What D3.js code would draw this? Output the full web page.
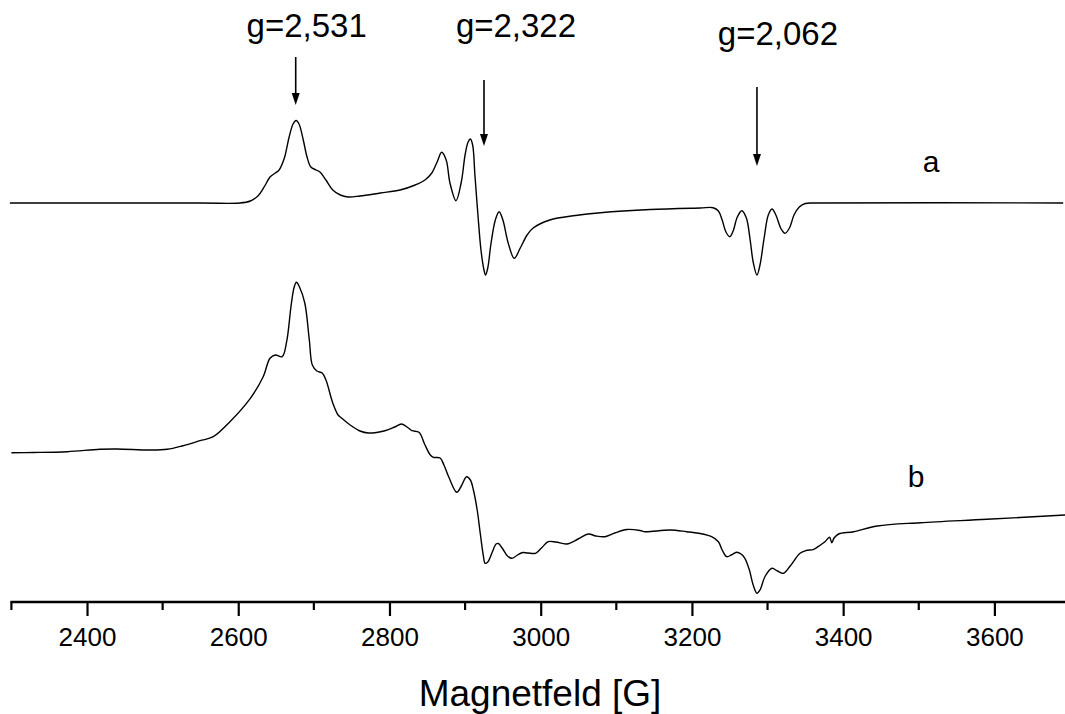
<!DOCTYPE html>
<html>
<head>
<meta charset="utf-8">
<script src="https://cdn.jsdelivr.net/npm/d3@7"></script>
<style>
  html, body { margin: 0; padding: 0; background: #fff; }
  svg { display: block; font-family: Arial, "Liberation Sans", sans-serif; }
</style>
</head>
<body>
<svg id="chart" width="1065" height="714"></svg>
<script>
// EPR spectra: magnetic field [G] vs. derivative signal (arbitrary units)

// Spectrum a – field positions and signal relative to its own baseline
const fieldA = [2298, 2550, 2602, 2616, 2626, 2635, 2642, 2649, 2654, 2661, 2667, 2672.5, 2676.5, 2680.4, 2686, 2691, 2696, 2703, 2708, 2716, 2725, 2735, 2745, 2761, 2788, 2814, 2834, 2847, 2856, 2863, 2869, 2875, 2880, 2888, 2895, 2900, 2904, 2907, 2910, 2913, 2917, 2921, 2925, 2927, 2930, 2934, 2940, 2945, 2950, 2957, 2965, 2973, 2982, 2990, 3012, 3046, 3079, 3145, 3211, 3228, 3235, 3240, 3245, 3250, 3254.5, 3260, 3266, 3272, 3277, 3281, 3286, 3290, 3295.5, 3301, 3306, 3311, 3318, 3323, 3329, 3335, 3342, 3350, 3363, 3691];
const signalA = [0, 0, 0, 2, 7, 17, 26, 30, 33, 45, 65, 79, 82.5, 79, 63, 46, 36, 33, 31, 23, 13, 8, 6, 7, 10, 13, 18, 23, 30, 41, 50.7, 43, 20, 2.3, 21, 48, 61, 64, 58, 28, -12, -47, -67, -72, -65, -42, -17, -8.7, -17, -40, -55.3, -45, -32, -25, -17, -12.5, -9.7, -6.5, -5, -4.7, -8, -17, -29, -33.7, -28, -14, -7.7, -15, -37, -59, -72, -62, -35, -12, -6, -12, -26, -30.3, -25, -12, -4, -0.5, 0, 0];

// Spectrum b
const fieldB = [2300, 2329, 2374, 2417, 2440, 2483, 2506, 2527, 2549.5, 2567, 2589, 2616, 2633, 2642, 2649, 2658, 2664, 2670, 2674, 2677, 2681, 2688, 2694, 2698, 2704, 2711, 2716, 2725, 2732, 2735, 2748, 2761, 2772, 2794, 2807, 2816, 2825, 2830, 2839, 2847, 2854, 2858, 2867, 2872, 2879, 2889, 2895, 2902, 2907, 2911, 2916, 2920, 2924, 2926.5, 2930, 2936, 2941, 2944, 2949, 2956, 2962, 2967.5, 2975, 2983, 2993, 3001, 3010, 3020, 3034.5, 3049.5, 3063, 3073, 3085, 3098, 3114, 3131.5, 3138, 3171, 3193, 3209, 3226, 3235, 3240, 3246, 3252, 3259, 3265, 3270, 3276, 3281, 3286, 3290, 3297, 3306, 3313, 3321, 3330, 3343, 3351, 3361, 3370, 3376, 3382, 3385, 3388, 3394, 3414, 3445, 3502, 3590, 3694];
const signalB = [0.3, 0.5, 1.3, 3.7, 4, 3, 3.7, 7.3, 12.3, 16.3, 31.3, 54.7, 76.3, 94.7, 98, 96.3, 111.3, 148, 166, 170.7, 166, 150, 113, 88, 82, 80, 73, 50, 38, 36, 28, 22, 20, 22.3, 26, 29, 25, 22.3, 20.7, 8, -2, -4.3, -5, -12, -25, -39.3, -33, -23.7, -27, -37, -57, -80, -102, -110.3, -109, -99, -91, -90.5, -95, -103, -105.3, -103, -99.7, -100, -100.3, -95, -88.7, -89, -91, -86, -81, -83, -83.7, -80, -76.5, -77.5, -78.7, -77, -78.7, -80.3, -83.7, -88.7, -97, -103.7, -102, -99.3, -101, -105.3, -117, -132, -140.3, -137, -123, -115.3, -118, -120.3, -113, -100.3, -97.5, -96.3, -92, -88.7, -84.3, -89.7, -85, -81, -78.7, -73, -69.7, -66.3, -62];

// Vertical offsets of the stacked spectra (a.u.)
const offsetA = 399;
const offsetB = 149;

// Curve labels
const curveNames = ["a", "b"];

// Marked g-factor positions
const gLabels = ["g=2,531", "g=2,322", "g=2,062"];
const gFields = [2676, 2925, 3286];

// Axis ticks
const majorTicks = [2400, 2600, 2800, 3000, 3200, 3400, 3600];
const minorTicks = [2300, 2500, 2700, 2900, 3100, 3300, 3500, 3700];
const xDomain = [2300, 3700];
const xTitle = "Magnetfeld [G]";

const svg = d3.select("#chart");

const x = d3.scaleLinear().domain(xDomain).range([11.4, 1070]);
const y = d3.scaleLinear().domain([0, 600]).range([602, 2]);

const line = d3.line()
  .x(d => x(d[0]))
  .y(d => y(d[1]))
  .curve(d3.curveCatmullRom.alpha(0.5));

const seriesA = fieldA.map((f, i) => [f, signalA[i] + offsetA]);
const seriesB = fieldB.map((f, i) => [f, signalB[i] + offsetB]);

[seriesA, seriesB].forEach(s => {
  svg.append("path")
    .datum(s)
    .attr("d", line)
    .attr("fill", "none")
    .attr("stroke", "#000")
    .attr("stroke-width", 1.4)
    .attr("stroke-linejoin", "round");
});

// Bottom axis: major ticks with labels, minor ticks without
const axisY = 602;
const axisG = svg.append("g").attr("transform", `translate(0,${axisY})`);

axisG.call(d3.axisBottom(x)
    .tickValues(majorTicks)
    .tickSize(14)
    .tickPadding(12)
    .tickFormat(d3.format("d")))
  .call(g => g.select(".domain").remove());

axisG.selectAll(".tick line").attr("stroke", "#000").attr("stroke-width", 2.2);
axisG.selectAll(".tick text")
  .attr("fill", "#000")
  .style("font-size", "26px")
  .style("font-family", "Arial, 'Liberation Sans', sans-serif");

axisG.selectAll(".minor")
  .data(minorTicks)
  .join("line")
  .attr("class", "minor")
  .attr("x1", d => x(d)).attr("x2", d => x(d))
  .attr("y1", 0).attr("y2", 8)
  .attr("stroke", "#000").attr("stroke-width", 2.2);

axisG.append("line")
  .attr("x1", x(xDomain[0]) - 1).attr("x2", x(xDomain[1]))
  .attr("y1", 0).attr("y2", 0)
  .attr("stroke", "#000").attr("stroke-width", 2.6);

svg.append("text")
  .attr("x", 540)
  .attr("y", 706)
  .attr("text-anchor", "middle")
  .style("font-size", "37px")
  .text(xTitle);

// Arrows and labels for the g-factor annotations
const arrowTop = [57, 80, 87];
const arrowTip = [105, 146, 166];
const labelDx = [11, 32, 21];
const labelBaseline = [37, 37, 45];

gFields.forEach((f, i) => {
  svg.append("line")
    .attr("x1", x(f)).attr("x2", x(f))
    .attr("y1", arrowTop[i]).attr("y2", arrowTip[i] - 11)
    .attr("stroke", "#000").attr("stroke-width", 1.6);
  svg.append("path")
    .attr("d", `M${x(f) - 4},${arrowTip[i] - 12} L${x(f) + 4},${arrowTip[i] - 12} L${x(f)},${arrowTip[i]} Z`)
    .attr("fill", "#000");
  svg.append("text")
    .attr("x", x(f) + labelDx[i])
    .attr("y", labelBaseline[i])
    .attr("text-anchor", "middle")
    .style("font-size", "33px")
    .text(gLabels[i]);
});

// Curve names
const namePos = [[931, 172], [916, 487]];
curveNames.forEach((n, i) => {
  svg.append("text")
    .attr("x", namePos[i][0])
    .attr("y", namePos[i][1])
    .attr("text-anchor", "middle")
    .style("font-size", "30px")
    .text(n);
});
</script>
</body>
</html>
